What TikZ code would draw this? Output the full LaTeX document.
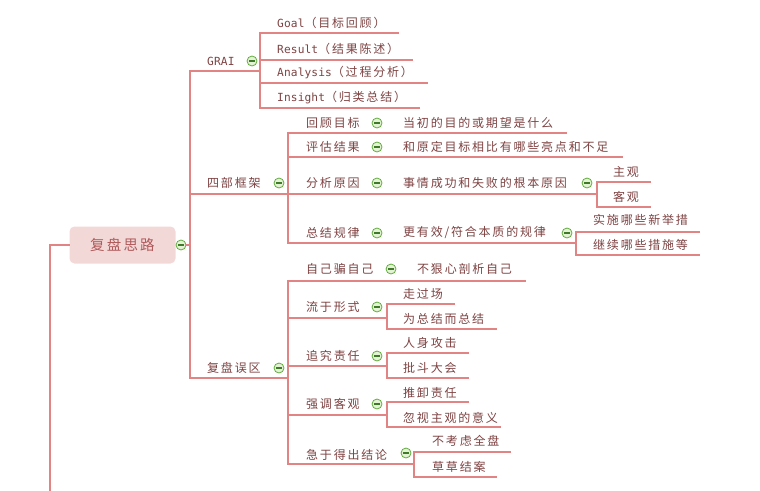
\documentclass[tikz,border=0pt]{standalone}
\usepackage{fontspec}
\setmainfont{Noto Sans CJK SC}[LetterSpace=15]
\newfontfamily\latf{DejaVu Sans Mono}[LetterSpace=1]
\definecolor{lnc}{HTML}{E38484}
\definecolor{txc}{HTML}{7E4242}
\definecolor{rootfill}{HTML}{F3D8D8}
\definecolor{roottx}{HTML}{B05A5A}
\definecolor{togf}{HTML}{E4F3D6}
\definecolor{togd}{HTML}{62AC3E}
\definecolor{togm}{HTML}{3E7A28}
\newcommand\lt[1]{{\latf\fontsize{11.2}{12}\selectfont #1}}
\begin{document}
\begin{tikzpicture}[x=1pt,y=-1pt,
  lbl/.style={anchor=west, inner sep=0pt, text=txc, font=\fontsize{12}{14}\selectfont},
  link/.style={draw=lnc, line width=2.3pt, line cap=rect},
  rootbox/.style={fill=rootfill, draw=none, rounded corners=5pt, minimum width=106pt, minimum height=37pt, text=roottx, font=\fontsize{14.5}{16}\selectfont, inner sep=0pt},
  tog/.style={circle, draw=togd, fill=togf, line width=0.8pt, minimum size=10pt, inner sep=0pt,
    path picture={\draw[togm, line width=1.1pt] ([xshift=-3pt]path picture bounding box.center) -- ([xshift=3pt]path picture bounding box.center);}}
]
\useasboundingbox (0,0) rectangle (760,490);

% ---------- root ----------
\node[rootbox] (root) at (122.5,245) {复盘思路};
\coordinate (rl) at (50,245);
\coordinate (rb) at (50,495);
\draw[link] (root.west) -- (rl) -- (rb);
\coordinate (v0) at (190,245);
\coordinate (v0t) at (190,71);
\coordinate (v0b) at (190,378);
\draw[link] (v0t) -- (v0b);
\node[tog] (t0) at (181,245) {};
\draw[link] (t0.east) -- (v0);

% ---------- GRAI ----------
\coordinate (g1) at (260,71);
\draw[link] (v0t) -- (g1);
\node[lbl] (grai) at (207,61) {\lt{GRAI}};
\node[tog] (tg) at (252,61) {};
\coordinate (gvt) at (260,33);
\coordinate (gvb) at (260,108);
\draw[link] (gvt) -- (gvb);
\node[lbl] (goal) at (277,23) {\lt{Goal}（目标回顾）};
\node[lbl] (res) at (277,49) {\lt{Result}（结果陈述）};
\node[lbl] (ana) at (277,73) {\lt{Analysis}（过程分析）};
\node[lbl] (ins) at (277,98) {\lt{Insight}（归类总结）};
\coordinate (goalE) at (398,33);
\coordinate (resS) at (260,60);  \coordinate (resE) at (412,60);
\coordinate (anaS) at (260,83);  \coordinate (anaE) at (427,83);
\coordinate (insE) at (419,108);
\draw[link] (gvt) -- (goalE);
\draw[link] (resS) -- (resE);
\draw[link] (anaS) -- (anaE);
\draw[link] (gvb) -- (insE);

% ---------- 四部框架 ----------
\coordinate (s0) at (190,194);
\coordinate (s1) at (288,194);
\draw[link] (s0) -- (s1);
\node[lbl] (sbkj) at (207,183) {四部框架};
\node[tog] (ts) at (279,183) {};
\coordinate (svt) at (288,133);
\coordinate (svb) at (288,243);
\draw[link] (svt) -- (svb);

\node[lbl] (hgmb) at (306,123) {回顾目标};
\node[tog] (t1) at (377,123) {};
\node[lbl] (hgmbc) at (403,123) {当初的目的或期望是什么};
\coordinate (hgE) at (566,133);
\draw[link] (svt) -- (hgE);

\node[lbl] (pgjg) at (306,147) {评估结果};
\node[tog] (t2) at (377,147) {};
\node[lbl] (pgjgc) at (403,147) {和原定目标相比有哪些亮点和不足};
\coordinate (pgS) at (288,157); \coordinate (pgE) at (622,157);
\draw[link] (pgS) -- (pgE);

\node[lbl] (fxyy) at (306,183) {分析原因};
\node[tog] (t3) at (377,183) {};
\node[lbl] (fxyyc) at (403,183) {事情成功和失败的根本原因};
\node[tog] (t3b) at (587,183) {};
\coordinate (fxV) at (597,194);
\draw[link] (s1) -- (fxV);
\coordinate (fxvt) at (597,182);
\coordinate (fxvb) at (597,207);
\draw[link] (fxvt) -- (fxvb);
\node[lbl] (zg) at (613,172) {主观};
\node[lbl] (kg) at (613,197) {客观};
\coordinate (zgE) at (650,182);
\coordinate (kgE) at (650,207);
\draw[link] (fxvt) -- (zgE);
\draw[link] (fxvb) -- (kgE);

\node[lbl] (zjgl) at (306,233) {总结规律};
\node[tog] (t4) at (377,233) {};
\node[lbl] (zjglc) at (403,233) {更有效/符合本质的规律};
\node[tog] (t4b) at (567,233) {};
\coordinate (zjV) at (576,243);
\draw[link] (svb) -- (zjV);
\coordinate (zjvt) at (576,232);
\coordinate (zjvb) at (576,255);
\draw[link] (zjvt) -- (zjvb);
\node[lbl] (ssx) at (593,220) {实施哪些新举措};
\node[lbl] (jxx) at (593,245) {继续哪些措施等};
\coordinate (ssE) at (699,232);
\coordinate (jxE) at (699,255);
\draw[link] (zjvt) -- (ssE);
\draw[link] (zjvb) -- (jxE);

% ---------- 复盘误区 ----------
\coordinate (w1) at (288,378);
\draw[link] (v0b) -- (w1);
\node[lbl] (fpwq) at (207,368) {复盘误区};
\node[tog] (tw) at (279,368) {};
\coordinate (wvt) at (288,281);
\coordinate (wvb) at (288,464);
\draw[link] (wvt) -- (wvb);

\node[lbl] (zjpzj) at (306,269) {自己骗自己};
\node[tog] (u1) at (391,269) {};
\node[lbl] (bhx) at (417,269) {不狠心剖析自己};
\coordinate (zjE) at (525,281);
\draw[link] (wvt) -- (zjE);

\node[lbl] (lyxs) at (306,307) {流于形式};
\node[tog] (u2) at (377,307) {};
\coordinate (lyS) at (288,318); \coordinate (lyV) at (387,318);
\draw[link] (lyS) -- (lyV);
\coordinate (lyvt) at (387,304); \coordinate (lyvb) at (387,329);
\draw[link] (lyvt) -- (lyvb);
\node[lbl] (zgc) at (403,294) {走过场};
\node[lbl] (wzj) at (403,319) {为总结而总结};
\coordinate (zgcE) at (454,304); \coordinate (wzjE) at (496,329);
\draw[link] (lyvt) -- (zgcE);
\draw[link] (lyvb) -- (wzjE);

\node[lbl] (zjzr) at (306,356) {追究责任};
\node[tog] (u3) at (377,356) {};
\coordinate (zrS) at (288,366); \coordinate (zrV) at (387,366);
\draw[link] (zrS) -- (zrV);
\coordinate (zrvt) at (387,353); \coordinate (zrvb) at (387,378);
\draw[link] (zrvt) -- (zrvb);
\node[lbl] (rsgj) at (403,343) {人身攻击};
\node[lbl] (pddh) at (403,368) {批斗大会};
\coordinate (rsE) at (468,353); \coordinate (pdE) at (468,378);
\draw[link] (zrvt) -- (rsE);
\draw[link] (zrvb) -- (pdE);

\node[lbl] (qdkg) at (306,404) {强调客观};
\node[tog] (u4) at (377,404) {};
\coordinate (qdS) at (288,415); \coordinate (qdV) at (387,415);
\draw[link] (qdS) -- (qdV);
\coordinate (qdvt) at (387,402); \coordinate (qdvb) at (387,427);
\draw[link] (qdvt) -- (qdvb);
\node[lbl] (txzr) at (403,393) {推卸责任};
\node[lbl] (hszg) at (403,418) {忽视主观的意义};
\coordinate (txE) at (468,402); \coordinate (hsE) at (500,427);
\draw[link] (qdvt) -- (txE);
\draw[link] (qdvb) -- (hsE);

\node[lbl] (jydc) at (306,455) {急于得出结论};
\node[tog] (u5) at (406,453) {};
\coordinate (jyV) at (414,464);
\draw[link] (wvb) -- (jyV);
\coordinate (jyvt) at (414,452); \coordinate (jyvb) at (414,477);
\draw[link] (jyvt) -- (jyvb);
\node[lbl] (bkl) at (432,441) {不考虑全盘};
\node[lbl] (cczj) at (432,467) {草草结案};
\coordinate (bkE) at (510,452); \coordinate (ccE) at (496,477);
\draw[link] (jyvt) -- (bkE);
\draw[link] (jyvb) -- (ccE);
\end{tikzpicture}
\end{document}
